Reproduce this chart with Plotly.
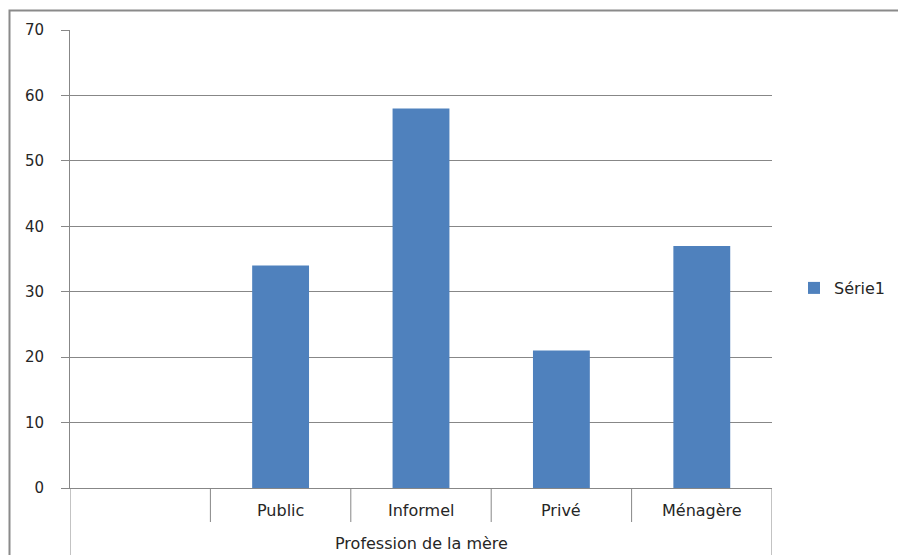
import plotly.graph_objects as go

categories = ["", "Public", "Informel", "Privé", "Ménagère"]
values = [None, 34, 58, 21, 37]
series_name = "Série1"
group_label = "Profession de la mère"
y_ticks = [0, 10, 20, 30, 40, 50, 60, 70]

W, H = 898, 555
L, R, T, B = 70, 772, 30, 488
FONT = "DejaVu Sans"
TXT = "#262626"
GRID = "#878787"

xs = list(range(len(categories)))

fig = go.Figure()
fig.add_trace(go.Bar(x=xs, y=values, name=series_name, marker_color="#4F81BD",
                     marker_line_width=0, width=0.405))

def py(p):  # pixel y -> paper y
    return (B - p) / (B - T)

def px(p):
    return (p - L) / (R - L)

shapes = []
# category separators (short)
for i in range(1, len(categories)):
    shapes.append(dict(type="line", xref="x", yref="paper", x0=i - 0.5, x1=i - 0.5,
                       y0=0, y1=py(522), line=dict(color=GRID, width=1)))
# outer vertical lines of the category area
for xv in [-0.5, len(categories) - 0.5]:
    shapes.append(dict(type="line", xref="x", yref="paper", x0=xv, x1=xv,
                       y0=0, y1=py(560), line=dict(color=GRID, width=1)))
# chart border
shapes.append(dict(type="rect", xref="paper", yref="paper", x0=px(9.5), x1=px(910),
                   y0=py(10.5), y1=py(570), line=dict(color="#8a8a8a", width=2),
                   fillcolor="rgba(0,0,0,0)", layer="below"))

annotations = []
for i, c in enumerate(categories):
    if c:
        annotations.append(dict(x=i, y=py(510), xref="x", yref="paper", text=c,
                                showarrow=False, font=dict(family=FONT, size=16, color=TXT),
                                xanchor="center", yanchor="middle"))
annotations.append(dict(x=(len(categories) - 1) / 2, y=py(543), xref="x", yref="paper",
                        text=group_label, showarrow=False,
                        font=dict(family=FONT, size=16, color=TXT),
                        xanchor="center", yanchor="middle"))

fig.update_layout(
    width=W, height=H,
    margin=dict(l=L, r=W - R, t=T, b=H - B, pad=0),
    paper_bgcolor="white", plot_bgcolor="white",
    shapes=shapes, annotations=annotations,
    showlegend=True,
    legend=dict(xref="container", yref="container", x=794 / W, y=(H - 288) / H,
                xanchor="left", yanchor="middle",
                font=dict(family=FONT, size=16, color=TXT),
                bgcolor="rgba(0,0,0,0)"),
    xaxis=dict(range=[-0.5, len(categories) - 0.5], tickvals=xs, showticklabels=False,
               ticks="", showgrid=False, zeroline=False, showline=True,
               linecolor=GRID, linewidth=1, fixedrange=True),
    yaxis=dict(range=[0, 70], tickvals=y_ticks, showgrid=True, gridcolor=GRID, gridwidth=1,
               zeroline=False, showline=True, linecolor=GRID, linewidth=1,
               ticks="outside", ticklen=8, tickcolor=GRID,
               tickfont=dict(family=FONT, size=15, color=TXT),
               ticklabelstandoff=14, fixedrange=True),
)

fig.write_html("out.html")
